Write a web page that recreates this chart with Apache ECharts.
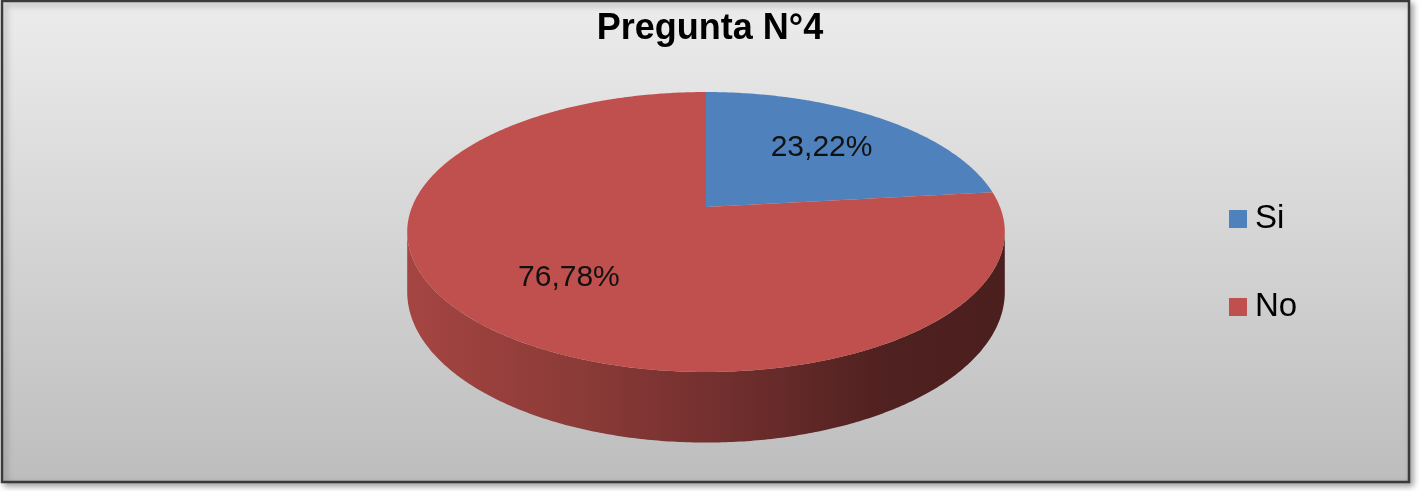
<!DOCTYPE html>
<html>
<head>
<meta charset="utf-8">
<script src="https://cdn.jsdelivr.net/npm/echarts@6/dist/echarts.min.js"></script>
<style>
html,body{margin:0;padding:0;background:#fff;}
#chart{width:1420px;height:491px;}
</style>
</head>
<body>
<div id="chart"></div>
<script>
// ---- data ----
const titleText = 'Pregunta N°4';
const categories = ['Si', 'No'];
const values = [23.22, 76.78];
const colors = ['#4f81bd', '#c0504d'];

// ---- layout of the tilted pie (perspective projection) ----
const PIE = { cx: 706, cy: 207, A: 294, B: 135.5, k: 0.1786, H: 58, labelR: 0.64 };
const total = values.reduce((a, b) => a + b, 0);
const cum = [];
values.reduce((acc, v, i) => { cum[i] = acc; return acc + v; }, 0);

function proj(phi, r, drop) {
  const u = r * Math.sin(phi);
  const v = -r * Math.cos(phi);
  const w = 1 - PIE.k * v;
  return [PIE.cx + PIE.A * u / w, PIE.cy + PIE.B * v / w + (drop ? PIE.H / w : 0)];
}
function arcPts(a0, a1, r, drop) {
  const n = Math.max(2, Math.ceil(Math.abs(a1 - a0) / 0.01));
  const pts = [];
  for (let j = 0; j <= n; j++) pts.push(proj(a0 + (a1 - a0) * j / n, r, drop));
  return pts;
}
function shade(hex, f) {
  const n = parseInt(hex.slice(1), 16);
  const r = Math.round(((n >> 16) & 255) * f), g = Math.round(((n >> 8) & 255) * f), b = Math.round((n & 255) * f);
  return 'rgb(' + r + ',' + g + ',' + b + ')';
}
const phiR = Math.acos(-PIE.k);
const phiL = 2 * Math.PI - phiR;
const leftX = proj(phiL, 1, false)[0], rightX = proj(phiR, 1, false)[0];

function fmt(v) { return v.toFixed(2).replace('.', ',') + '%'; }

function makeSeries(i) {
  return {
    type: 'custom',
    name: categories[i],
    coordinateSystem: 'none',
    itemStyle: { color: colors[i] },
    data: [values[i]],
    silent: true,
    renderItem: function (params, api) {
      const v = api.value(0);
      const a0 = cum[i] / total * 2 * Math.PI;
      const a1 = a0 + v / total * 2 * Math.PI;
      const col = colors[i];
      const children = [];
      // side wall (visible front part)
      const s = Math.max(a0, phiR), e = Math.min(a1, phiL);
      if (e > s) {
        const top = arcPts(s, e, 1, false);
        const bot = arcPts(e, s, 1, true);
        children.push({
          type: 'polygon', z2: 0,
          shape: { points: top.concat(bot) },
          style: {
            fill: new echarts.graphic.LinearGradient(leftX, 0, rightX, 0, [
              { offset: 0, color: shade(col, 0.86) },
              { offset: 0.3, color: shade(col, 0.72) },
              { offset: 0.55, color: shade(col, 0.58) },
              { offset: 0.8, color: shade(col, 0.41) },
              { offset: 1, color: shade(col, 0.39) }
            ], true)
          }
        });
      }
      // top face
      children.push({
        type: 'polygon', z2: 10,
        shape: { points: [proj(0, 0, false)].concat(arcPts(a0, a1, 1, false)) },
        style: { fill: col }
      });
      // label
      const lp = proj((a0 + a1) / 2, PIE.labelR, false);
      children.push({
        type: 'text', z2: 20,
        style: {
          text: fmt(v), x: lp[0], y: lp[1], align: 'center', verticalAlign: 'middle',
          font: '30px "Liberation Sans", Arial, sans-serif', fill: '#111'
        }
      });
      return { type: 'group', children: children };
    }
  };
}

const chart = echarts.init(document.getElementById('chart'), null, { renderer: 'canvas' });
chart.setOption({
  animation: false,
  backgroundColor: '#ffffff',
  graphic: [{
    type: 'rect', z: -10,
    shape: { x: 2, y: 1, width: 1407, height: 481 },
    style: {
      fill: new echarts.graphic.LinearGradient(0, 0, 0, 1, [
        { offset: 0, color: '#ececec' },
        { offset: 1, color: '#bdbdbd' }
      ]),
      stroke: '#3a3a3a', lineWidth: 2.5,
      shadowBlur: 6, shadowOffsetX: 3, shadowOffsetY: 3, shadowColor: 'rgba(0,0,0,0.35)'
    }
  }],
  title: {
    text: titleText, left: 'center', top: 11, padding: 0,
    textStyle: { fontFamily: '"Liberation Sans", Arial, sans-serif', fontSize: 36, fontWeight: 'bold', color: '#000' }
  },
  legend: {
    orient: 'vertical', left: 1229, top: 201, padding: 0,
    icon: 'rect', itemWidth: 18, itemHeight: 18, itemGap: 52,
    data: categories,
    textStyle: { fontFamily: '"Liberation Sans", Arial, sans-serif', fontSize: 33, lineHeight: 36, color: '#000', padding: [0, 0, 0, 3] }
  },
  series: categories.map((c, i) => makeSeries(i))
});
</script>
</body>
</html>
